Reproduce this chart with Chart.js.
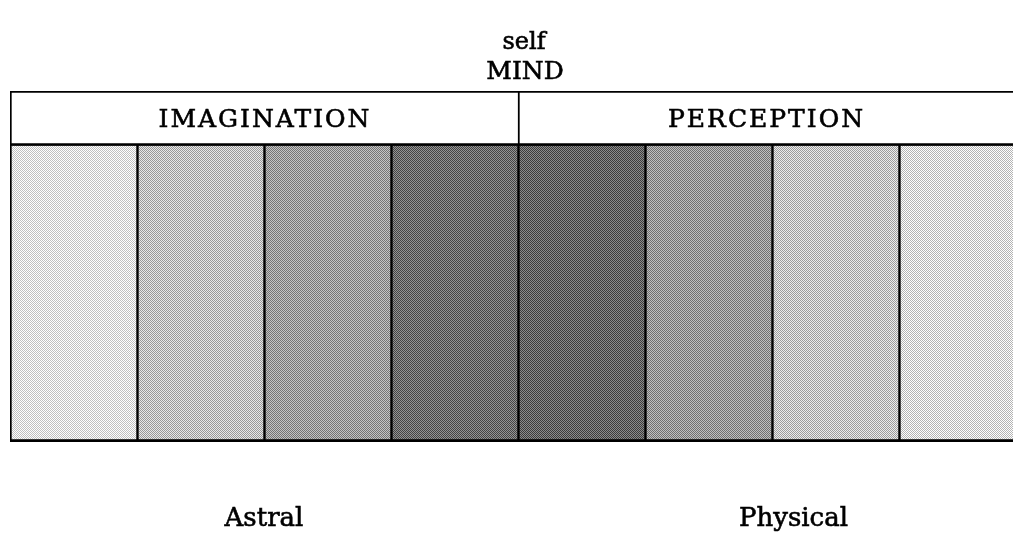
<!DOCTYPE html>
<html>
<head>
<meta charset="utf-8">
<script src="https://cdn.jsdelivr.net/npm/chart.js@4.4.1/dist/chart.umd.min.js"></script>
<style>
    html, body { margin: 0; padding: 0; background: #fff; overflow: hidden; }
    #wrap { position: relative; width: 1013px; height: 533px; overflow: hidden; }
    canvas { display: block; }
</style>
</head>
<body>
<div id="wrap"><canvas id="mindChart" width="1040" height="533"></canvas></div>
<script>
// Dados do diagrama
const bands = ['b1', 'b2', 'b3', 'b4', 'b5', 'b6', 'b7', 'b8'];
const bandGray = [232, 192, 156, 108, 100, 152, 196, 220];
const bandSpan = [0, 5.4];
const headerSpan = [5.4, 6.4];
const headerLabels = ['IMAGINATION', 'PERCEPTION'];
const titleLines = ['self', 'MIND'];
const footLabels = ['Astral', 'Physical'];

const serif = '"DejaVu Serif", "Liberation Serif", serif';

// Matriz de Bayer 8x8 para a textura pontilhada
function bayerMatrix() {
    let m = [[0]];
    const base = [[0, 2], [3, 1]];
    for (let k = 0; k < 3; k++) {
        const n = m.length;
        const next = [];
        for (let i = 0; i < 2 * n; i++) {
            next.push([]);
            for (let j = 0; j < 2 * n; j++) {
                next[i].push(4 * m[i % n][j % n] + base[Math.floor(i / n)][Math.floor(j / n)]);
            }
        }
        m = next;
    }
    return m;
}

function stipple(gray) {
    const bm = bayerMatrix();
    const c = document.createElement('canvas');
    c.width = 8; c.height = 8;
    const g = c.getContext('2d');
    const img = g.createImageData(8, 8);
    const d = 40;
    for (let y = 0; y < 8; y++) {
        for (let x = 0; x < 8; x++) {
            let v = bm[y][x] < 32 ? gray - d : gray + d;
            v = Math.max(0, Math.min(255, v));
            const p = (y * 8 + x) * 4;
            img.data[p] = v; img.data[p + 1] = v; img.data[p + 2] = v; img.data[p + 3] = 255;
        }
    }
    g.putImageData(img, 0, 0);
    return g.createPattern(c, 'repeat');
}

const patterns = bandGray.map(stipple);

// texto com traço leve, imitando a impressão
function heavyText(ctx, txt, x, y) {
    ctx.fillText(txt, x, y);
    ctx.strokeText(txt, x, y);
}

// Textos desenhados sobre o gráfico
const textPlugin = {
    id: 'diagramText',
    afterDatasetsDraw(chart) {
        const ctx = chart.ctx;
        const head = chart.getDatasetMeta(1).data;
        const left = head[0].x - head[0].width / 2;
        const mid = head[4].x - head[4].width / 2;
        const right = Math.min(head[7].x + head[7].width / 2, 1013);
        const hy = (head[0].y + head[0].base) / 2;

        ctx.save();
        ctx.fillStyle = '#000';
        ctx.strokeStyle = '#000';
        ctx.lineWidth = 0.6;
        ctx.textAlign = 'center';
        ctx.textBaseline = 'alphabetic';

        // título
        ctx.font = '24px ' + serif;
        heavyText(ctx, titleLines[0], mid + 6, 49);
        ctx.font = '25px ' + serif;
        heavyText(ctx, titleLines[1], mid + 7, 79);

        // cabeçalho
        ctx.font = '25px ' + serif;
        ctx.letterSpacing = '2px';
        ctx.textBaseline = 'middle';
        heavyText(ctx, headerLabels[0], (left + mid) / 2 + 1, hy + 2);
        heavyText(ctx, headerLabels[1], (mid + right) / 2 + 1, hy + 2);
        ctx.letterSpacing = '0px';

        // rodapé
        ctx.textBaseline = 'alphabetic';
        ctx.font = '26px ' + serif;
        heavyText(ctx, footLabels[0], (left + mid) / 2, 526);
        heavyText(ctx, footLabels[1], (mid + right) / 2 + 28, 526);
        ctx.restore();
    }
};

const ctx = document.getElementById('mindChart').getContext('2d');
new Chart(ctx, {
    type: 'bar',
    data: {
        labels: bands,
        datasets: [{
            label: 'bands',
            data: bands.map(() => bandSpan),
            backgroundColor: patterns,
            borderColor: '#000',
            borderWidth: function(c) {
                return { left: 2, right: 1, top: 0, bottom: 3 };
            },
            borderSkipped: false,
            grouped: false,
            barPercentage: 1,
            categoryPercentage: 1
        }, {
            label: 'header',
            data: bands.map(() => headerSpan),
            backgroundColor: '#fff',
            borderColor: '#000',
            borderWidth: function(c) {
                const i = c.dataIndex;
                return { left: (i === 0 || i === 4) ? 2 : 0, right: 0, top: 2, bottom: 3 };
            },
            borderSkipped: false,
            grouped: false,
            barPercentage: 1,
            categoryPercentage: 1
        }]
    },
    options: {
        responsive: false,
        animation: false,
        layout: { padding: { left: 10, right: 14, top: 91, bottom: 91 } },
        plugins: {
            legend: { display: false },
            tooltip: { enabled: false }
        },
        scales: {
            x: { display: false },
            y: { display: false, min: 0, max: 6.4 }
        }
    },
    plugins: [textPlugin]
});
</script>
</body>
</html>
